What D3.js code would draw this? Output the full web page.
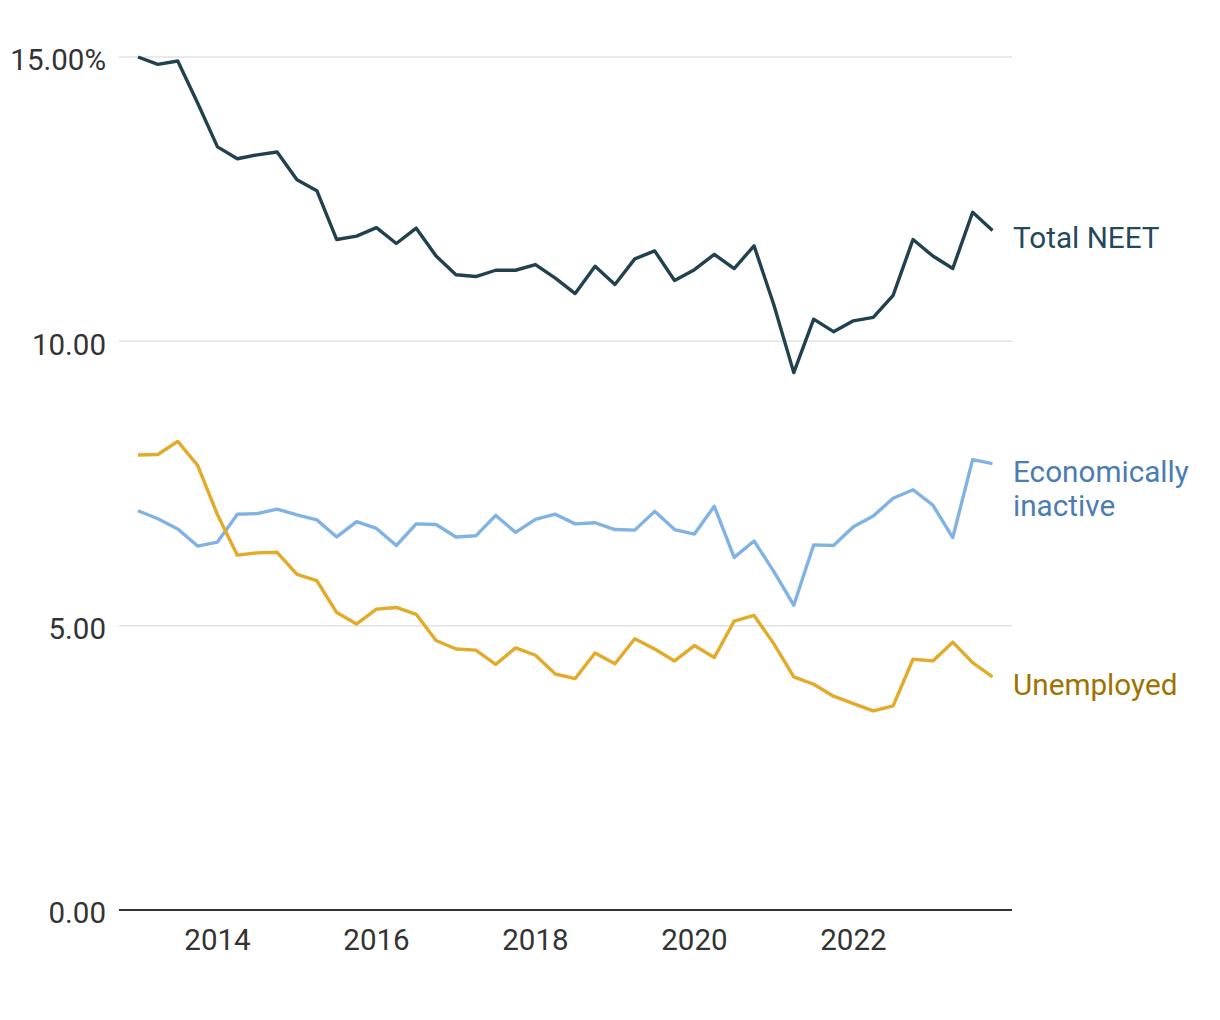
<!DOCTYPE html>
<html>
<head>
<meta charset="utf-8">
<script src="https://cdn.jsdelivr.net/npm/d3@7"></script>
<style>
  html, body { margin: 0; padding: 0; background: #fff; }
  svg { display: block; font-family: Roboto, "Noto Sans", sans-serif; }
</style>
</head>
<body>
<svg id="chart" width="1220" height="1020"></svg>
<script>
// Quarterly, 2013 Q1 .. 2023 Q4
const startYear = 2013;
const quarters = d3.range(44).map(i => startYear + i * 0.25);

const totalNEET = [15.00, 14.87, 14.93, 14.19, 13.42, 13.21, 13.28, 13.33, 12.84, 12.65,
  11.79, 11.85, 12.00, 11.72, 11.99, 11.50, 11.17, 11.14, 11.25, 11.25,
  11.35, 11.11, 10.84, 11.32, 11.00, 11.45, 11.59, 11.07, 11.26, 11.53,
  11.28, 11.68, 10.64, 9.45, 10.39, 10.17, 10.36, 10.42, 10.81, 11.79,
  11.50, 11.28, 12.27, 11.95];

const econInactive = [7.02, 6.88, 6.70, 6.40, 6.47, 6.96, 6.97, 7.05, 6.95, 6.86,
  6.56, 6.83, 6.71, 6.41, 6.79, 6.78, 6.56, 6.58, 6.94, 6.64,
  6.87, 6.96, 6.79, 6.81, 6.69, 6.68, 7.01, 6.69, 6.61, 7.10,
  6.20, 6.49, 5.95, 5.36, 6.42, 6.41, 6.74, 6.93, 7.24, 7.39,
  7.12, 6.55, 7.92, 7.85];

const unemployed = [8.00, 8.01, 8.24, 7.82, 6.95, 6.24, 6.28, 6.29, 5.90, 5.79,
  5.23, 5.03, 5.29, 5.32, 5.20, 4.74, 4.59, 4.57, 4.32, 4.61,
  4.48, 4.15, 4.07, 4.52, 4.33, 4.77, 4.59, 4.38, 4.65, 4.44,
  5.08, 5.18, 4.68, 4.10, 3.97, 3.76, 3.63, 3.50, 3.59, 4.41,
  4.38, 4.71, 4.35, 4.10];

const yTicks = [0, 5, 10, 15];
const yTickLabels = ["0.00", "5.00", "10.00", "15.00%"];
const xTicks = [2014, 2016, 2018, 2020, 2022];

const seriesNames = ["Total NEET", "Economically inactive", "Unemployed"];
const seriesValues = [totalNEET, econInactive, unemployed];
const lineColors = ["#22414f", "#80b3e3", "#e2ab2a"];
const labelColors = ["#24495b", "#4a7db3", "#9e7300"];
const labelLines = [["Total NEET"], ["Economically", "inactive"], ["Unemployed"]];

const svg = d3.select("#chart");
const plotLeft = 119, plotRight = 1012;

const x = d3.scaleLinear().domain([2013, 2023.75]).range([138, 992.5]);
const y = d3.scaleLinear().domain([0, 15]).range([910, 57]);

// gridlines
svg.append("g").selectAll("line")
  .data(yTicks.filter(d => d !== 0))
  .join("line")
  .attr("x1", plotLeft).attr("x2", plotRight)
  .attr("y1", d => y(d)).attr("y2", d => y(d))
  .attr("stroke", "#e2e2e2").attr("stroke-width", 1.5);

// baseline
svg.append("line")
  .attr("x1", plotLeft).attr("x2", plotRight)
  .attr("y1", y(0)).attr("y2", y(0))
  .attr("stroke", "#333").attr("stroke-width", 2);

// y labels
svg.append("g").selectAll("text")
  .data(yTicks)
  .join("text")
  .attr("x", 106)
  .attr("y", d => y(d))
  .attr("dy", "0.45em")
  .attr("text-anchor", "end")
  .attr("font-size", 29.5)
  .attr("fill", "#333")
  .text((d, i) => yTickLabels[i]);

// x labels
svg.append("g").selectAll("text")
  .data(xTicks)
  .join("text")
  .attr("x", d => x(d))
  .attr("y", 950)
  .attr("text-anchor", "middle")
  .attr("font-size", 29.5)
  .attr("fill", "#333")
  .text(d => d);

const line = d3.line()
  .x((d, i) => x(quarters[i]))
  .y(d => y(d));

svg.append("g").selectAll("path")
  .data(seriesValues)
  .join("path")
  .attr("d", d => line(d))
  .attr("fill", "none")
  .attr("stroke", (d, i) => lineColors[i])
  .attr("stroke-width", 3.4)
  .attr("stroke-linejoin", "round");

// end labels
seriesValues.forEach((vals, i) => {
  const last = vals[vals.length - 1];
  const t = svg.append("text")
    .attr("x", 1013)
    .attr("y", y(last) + 18)
    .attr("font-size", 29.7)
    .attr("fill", labelColors[i]);
  labelLines[i].forEach((s, j) => {
    t.append("tspan").attr("x", 1013).attr("dy", j === 0 ? 0 : 34).text(s);
  });
});
</script>
</body>
</html>
